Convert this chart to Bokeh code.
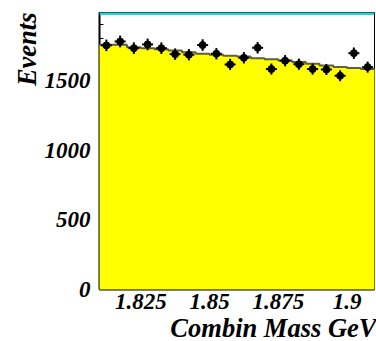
import numpy as np
from bokeh.plotting import figure
from bokeh.models import Range1d, FixedTicker, NumeralTickFormatter, Span, Title
from bokeh.embed import file_html
from bokeh.resources import INLINE

# bin centres (GeV), bin width 0.005
mass = [1.8125, 1.8175, 1.8225, 1.8275, 1.8325, 1.8375, 1.8425, 1.8475, 1.8525, 1.8575,
        1.8625, 1.8675, 1.8725, 1.8775, 1.8825, 1.8875, 1.8925, 1.8975, 1.9025, 1.9075]
bin_width = 0.005
# data points (events per bin)
counts = [1752, 1780, 1732, 1759, 1732, 1689, 1685, 1754, 1692, 1615,
          1663, 1735, 1582, 1642, 1617, 1582, 1579, 1534, 1696, 1596]
# yellow (background/fit) histogram
fit = [1757, 1757, 1739, 1732, 1725, 1716, 1703, 1692, 1685, 1677,
       1673, 1660, 1653, 1644, 1632, 1620, 1608, 1596, 1589, 1582]
x_ticks = [1.825, 1.85, 1.875, 1.9]
y_ticks = [0, 500, 1000, 1500]
x_title = "Combin Mass GeV"
y_title = "Events"

XMIN, XMAX = 1.81, 1.91
YMIN, YMAX = 0, 1988
FONT = "Liberation Serif"

p = figure(width=376, height=341, x_range=Range1d(XMIN, XMAX), y_range=Range1d(YMIN, YMAX),
           output_backend="svg", toolbar_location=None,
           min_border_left=99, min_border_right=2, min_border_top=12, min_border_bottom=52)
p.xgrid.visible = False
p.ygrid.visible = False
p.background_fill_color = "white"
p.border_fill_color = "white"
p.outline_line_color = "black"
p.outline_line_width = 1

m = np.array(mass)
c = np.array(counts, dtype=float)
f = np.array(fit, dtype=float)
left = m - bin_width / 2
right = m + bin_width / 2
edges = list(left) + [right[-1]]
step_y = list(f) + [f[-1]]

# yellow histogram (drawn above axes so ticks are hidden, like ROOT)
p.varea_step(x=edges, y1=[0] * len(edges), y2=step_y, step_mode="after",
             fill_color="#ffff00", level="overlay")
p.step(x=edges, y=step_y, mode="after", line_color="#5f5f40", line_width=2, level="overlay")

# data points with errors
err = np.sqrt(c)
p.segment(x0=m, x1=m, y0=c - err, y1=c + err, line_color="black", line_width=2, level="overlay")
p.segment(x0=m - 0.002, x1=m + 0.002, y0=c, y1=c, line_color="black", line_width=2, level="overlay")
p.scatter(x=m, y=c, size=7, color="black", level="overlay")

# cyan line at the top of the frame
p.add_layout(Span(location=1980, dimension="width", line_color="#22d4d4", line_width=3))

minor_x = [round(XMIN + 0.005 * i, 4) for i in range(21)]
minor_y = list(range(0, 2000, 100))

for ax in p.xaxis:
    ax.ticker = FixedTicker(ticks=x_ticks, minor_ticks=minor_x)
    ax.formatter = NumeralTickFormatter(format="0.[000]")
for ax in p.yaxis:
    ax.ticker = FixedTicker(ticks=y_ticks, minor_ticks=minor_y)

for ax in list(p.xaxis) + list(p.yaxis):
    ax.major_tick_in = 7
    ax.major_tick_out = 0
    ax.minor_tick_in = 4
    ax.minor_tick_out = 0
    ax.axis_line_width = 2
    ax.major_label_text_font = FONT
    ax.major_label_text_font_style = "bold italic"
    ax.major_label_text_font_size = "23px"
    ax.major_label_text_color = "black"
    ax.axis_line_color = "black"
p.yaxis.major_label_standoff = 9
p.xaxis.major_label_standoff = 4

# titles, ROOT-style right aligned at the axis ends
p.add_layout(Title(text=x_title, align="right", standoff=-2, offset=-2,
                   text_font=FONT, text_font_style="bold italic", text_font_size="26.5px",
                   text_color="black"), "below")
p.add_layout(Title(text=y_title, align="right", standoff=0, offset=0,
                   text_font=FONT, text_font_style="bold italic", text_font_size="26.5px",
                   text_color="black"), "left")

open("out.html", "w").write(file_html(p, INLINE))
